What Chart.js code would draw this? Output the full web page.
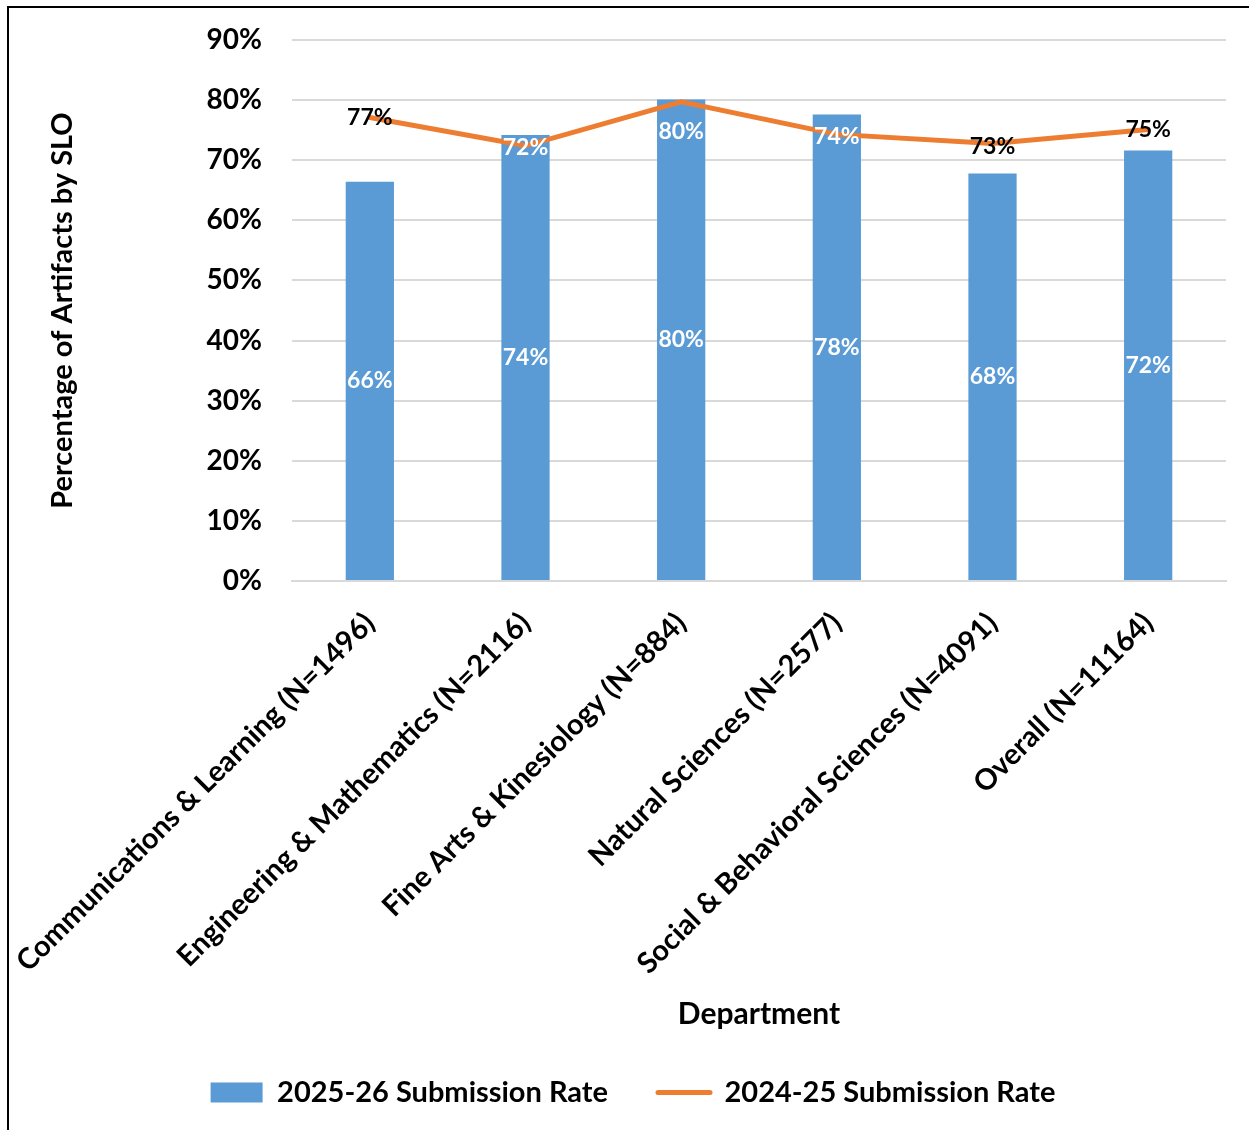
<!DOCTYPE html>
<html>
<head>
<meta charset="utf-8">
<title>Submission Rate by Department</title>
<script src="https://cdn.jsdelivr.net/npm/chart.js@4.4.1/dist/chart.umd.min.js"></script>
<style>
  html, body { margin: 0; padding: 0; background: #fff; }
  #chartBox { position: relative; width: 1249px; height: 1130px; }
</style>
</head>
<body>
<div id="chartBox"><canvas id="submissionChart" width="1249" height="1130"></canvas></div>
<script>
// chart data
const departments = [
  "Communications & Learning (N=1496)",
  "Engineering & Mathematics (N=2116)",
  "Fine Arts & Kinesiology (N=884)",
  "Natural Sciences (N=2577)",
  "Social & Behavioral Sciences (N=4091)",
  "Overall (N=11164)"
];
const rate2025 = [66.4, 74.2, 80.1, 77.6, 67.8, 71.6];
const rate2024 = [77.1, 72.4, 79.7, 74.3, 72.8, 75.1];
const yTickValues = [0, 10, 20, 30, 40, 50, 60, 70, 80, 90];

// label styling for the 2024-25 line (white where it sits on a bar)
const lineLabelColors = ["#000", "#fff", "#fff", "#fff", "#000", "#000"];
const lineLabelShift = [0, 2, 30, 2, 3, 0];

const BLUE = "#5b9bd5";
const ORANGE = "#ed7d31";

Chart.defaults.font.family = "Lato, 'Open Sans', sans-serif";
Chart.defaults.font.weight = "bold";
Chart.defaults.color = "#000";

// white background + black frame on top/left edge
const frame = {
  id: "frame",
  beforeDraw(chart) {
    const ctx = chart.ctx;
    ctx.save();
    ctx.fillStyle = "#fff";
    ctx.fillRect(0, 0, chart.width, chart.height);
    ctx.strokeStyle = "#000";
    ctx.lineWidth = 2;
    ctx.beginPath();
    ctx.moveTo(8, chart.height);
    ctx.lineTo(8, 7);
    ctx.lineTo(chart.width, 7);
    ctx.stroke();
    ctx.restore();
  }
};

// value labels for bars and line points
const valueLabels = {
  id: "valueLabels",
  afterDatasetsDraw(chart) {
    const ctx = chart.ctx;
    ctx.save();
    ctx.font = "bold 23px Lato";
    ctx.textAlign = "center";
    ctx.textBaseline = "middle";
    chart.getDatasetMeta(0).data.forEach((bar, i) => {
      ctx.fillStyle = "#fff";
      ctx.fillText(Math.round(rate2025[i]) + "%", bar.x, (bar.y + bar.base) / 2);
    });
    chart.getDatasetMeta(1).data.forEach((pt, i) => {
      ctx.fillStyle = lineLabelColors[i];
      ctx.fillText(Math.round(rate2024[i]) + "%", pt.x, pt.y + lineLabelShift[i]);
    });
    ctx.restore();
  }
};

const ctx = document.getElementById("submissionChart").getContext("2d");
new Chart(ctx, {
  type: "bar",
  data: {
    labels: departments,
    datasets: [
      {
        type: "bar",
        label: "2025-26 Submission Rate",
        data: rate2025,
        backgroundColor: BLUE,
        barPercentage: 0.31,
        categoryPercentage: 1,
        order: 1
      },
      {
        type: "line",
        label: "2024-25 Submission Rate",
        data: rate2024,
        borderColor: ORANGE,
        borderWidth: 5,
        borderCapStyle: "round",
        pointRadius: 0,
        tension: 0,
        fill: false,
        order: 0
      }
    ]
  },
  options: {
    responsive: false,
    animation: false,
    layout: {
      padding: { left: 40, right: 23, top: 40, bottom: 13 }
    },
    plugins: {
      tooltip: { enabled: false },
      legend: {
        position: "bottom",
        labels: {
          font: { size: 29, weight: "bold" },
          color: "#000",
          usePointStyle: true,
          pointStyleWidth: 52,
          boxHeight: 20,
          padding: 50,
          generateLabels: function () {
            return [
              {
                text: "2025-26 Submission Rate",
                pointStyle: "rect",
                fillStyle: BLUE,
                strokeStyle: BLUE,
                lineWidth: 0,
                datasetIndex: 0
              },
              {
                text: "2024-25 Submission Rate",
                pointStyle: "line",
                fillStyle: ORANGE,
                strokeStyle: ORANGE,
                lineWidth: 5,
                lineCap: "round",
                datasetIndex: 1
              }
            ];
          }
        }
      }
    },
    scales: {
      x: {
        grid: { display: false },
        border: { color: "#d9d9d9", width: 2 },
        ticks: {
          font: { size: 29, weight: "bold" },
          color: "#000",
          minRotation: 45,
          maxRotation: 45,
          autoSkip: false,
          padding: 17
        },
        title: {
          display: true,
          text: "Department",
          font: { size: 30, weight: "bold" },
          color: "#000",
          padding: { top: 0, bottom: -4 }
        },
        afterFit(scale) {
          scale.height = 447;
          scale.paddingLeft = 0;
          scale.paddingRight = 0;
        }
      },
      y: {
        min: 0,
        max: 90,
        afterBuildTicks(scale) {
          scale.ticks = yTickValues.map(v => ({ value: v }));
        },
        grid: { color: "#d9d9d9", lineWidth: 2, drawTicks: false },
        border: { display: false },
        ticks: {
          font: { size: 28, weight: "bold" },
          color: "#000",
          padding: 30,
          callback: v => v + "%"
        },
        title: {
          display: true,
          text: "Percentage of Artifacts by SLO",
          font: { size: 29, weight: "bold" },
          color: "#000",
          padding: { top: 5, bottom: 0 }
        },
        afterFit(scale) {
          scale.width = 252;
          scale.paddingTop = 0;
          scale.paddingBottom = 0;
        }
      }
    }
  },
  plugins: [frame, valueLabels]
});
</script>
</body>
</html>
